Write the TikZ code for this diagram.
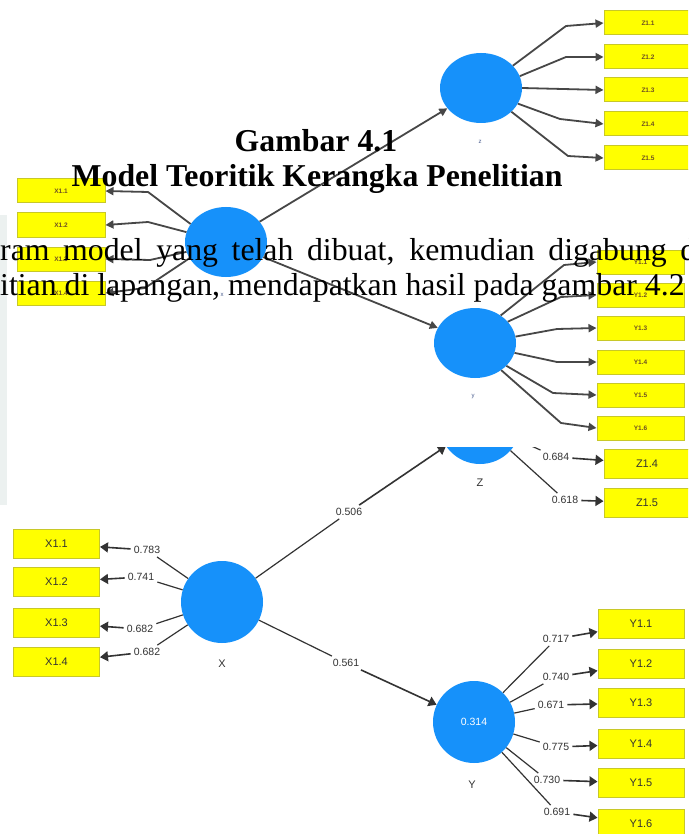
\documentclass[tikz,border=0pt]{standalone}
\usepackage{fontspec}
\setmainfont{Liberation Serif}
\setsansfont{Liberation Sans}
\usetikzlibrary{arrows.meta,shapes.geometric}
\definecolor{plsblue}{RGB}{22,145,250}
\definecolor{plsyellow}{RGB}{255,255,0}
\definecolor{plsedge}{RGB}{200,200,40}
\definecolor{edgegray}{RGB}{51,51,51}
\definecolor{stripgray}{RGB}{236,241,240}
\definecolor{tinytext}{RGB}{110,80,35}
\definecolor{capblue}{RGB}{70,90,140}
\begin{document}
\begin{tikzpicture}[x=1pt,y=-1pt,
  % upper (small) path model
  tlat/.style={ellipse,fill=plsblue,minimum width=82pt,minimum height=70pt,inner sep=0pt},
  tbox/.style={rectangle,fill=plsyellow,draw=plsedge,line width=1pt,minimum width=88pt,minimum height=24pt,inner sep=0pt,
    text=tinytext,font=\sffamily\bfseries\fontsize{6.5}{7}\selectfont},
  tcap/.style={text=capblue,font=\sffamily\fontsize{6}{7}\selectfont,inner sep=0pt},
  tconn/.style={draw=edgegray!90,line width=1.8pt,line join=round},
  tarrow/.style={-{Triangle[length=8pt,width=8pt]}},
  % lower path model
  lat/.style={circle,fill=plsblue,minimum size=82pt,inner sep=0pt},
  mbox/.style={rectangle,fill=plsyellow,draw=plsedge,line width=1pt,minimum width=86pt,minimum height=29pt,inner sep=0pt,
    text=edgegray,font=\sffamily\fontsize{11}{12}\selectfont},
  coef/.style={text=edgegray,font=\sffamily\fontsize{10.5}{12}\selectfont,inner sep=3pt},
  lcap/.style={text=edgegray,font=\sffamily\fontsize{11}{12}\selectfont,inner sep=0pt},
  conn/.style={draw=edgegray,line width=1.2pt},
  arrowed/.style={-{Triangle[length=8pt,width=10pt]},line width=1.6pt},
  % page text
  titlefont/.style={font=\fontsize{31.8}{38}\selectfont\bfseries,inner sep=0pt},
  bodyfont/.style={font=\fontsize{31.8}{38}\selectfont,inner sep=0pt}
]
\useasboundingbox (0,0) rectangle (688,834);
\clip (0,0) rectangle (688,834);
\fill[white] (0,0) rectangle (688,834);
\fill[stripgray] (0,215) rectangle (7,505);

% ---------- upper model ----------
\node[tlat] (tx) at (226,242) {};
\node[tlat] (tz) at (481,88) {};
\node[tlat] (ty) at (475,343) {};
\node[tcap] (txc) at (222,295) {x};
\node[tcap] (tzc) at (480,142) {z};
\node[tcap] (tyc) at (473,397) {y};

\node[tbox] (tx1) at (61,191) {X1.1};
\node[tbox] (tx2) at (61,225) {X1.2};
\node[tbox] (tx3) at (61,259) {X1.3};
\node[tbox] (tx4) at (61,293) {X1.4};

\node[tbox] (tz1) at (648,23) {Z1.1};
\node[tbox] (tz2) at (648,57) {Z1.2};
\node[tbox] (tz3) at (648,90) {Z1.3};
\node[tbox] (tz4) at (648,124) {Z1.4};
\node[tbox] (tz5) at (648,158) {Z1.5};

\node[tbox,minimum width=87pt] (ty1) at (640.5,262) {Y1.1};
\node[tbox,minimum width=87pt] (ty2) at (640.5,295) {Y1.2};
\node[tbox,minimum width=87pt] (ty3) at (640.5,328) {Y1.3};
\node[tbox,minimum width=87pt] (ty4) at (640.5,362) {Y1.4};
\node[tbox,minimum width=87pt] (ty5) at (640.5,395) {Y1.5};
\node[tbox,minimum width=87pt] (ty6) at (640.5,428) {Y1.6};

% bend points of the indicator links
\coordinate (bx1) at (148,192);
\coordinate (bx2) at (148,222);
\coordinate (bx3) at (150,260);
\coordinate (bx4) at (145,288);
\coordinate (bz1) at (566,26);
\coordinate (bz2) at (566,57);
\coordinate (bz4) at (560,119);
\coordinate (bz5) at (568,156);
\coordinate (by1) at (564,265);
\coordinate (by2) at (561,297);
\coordinate (by3) at (557,329);
\coordinate (by4) at (557,362);
\coordinate (by5) at (553,393);
\coordinate (by6) at (561,423);

\draw[tconn,tarrow] (tx.153) -- (bx1) -- (tx1.east);
\draw[tconn,tarrow] (tx.166) -- (bx2) -- (tx2.east);
\draw[tconn,tarrow] (tx.194) -- (bx3) -- (tx3.east);
\draw[tconn,tarrow] (tx.204) -- (bx4) -- (tx4.east);

\draw[tconn,tarrow] (tz.35) -- (bz1) -- (tz1.west);
\draw[tconn,tarrow] (tz.17) -- (bz2) -- (tz2.west);
\draw[tconn,tarrow] (tz.0) -- (tz3.west);
\draw[tconn,tarrow] (tz.-23) -- (bz4) -- (tz4.west);
\draw[tconn,tarrow] (tz.-38) -- (bz5) -- (tz5.west);

\draw[tconn,tarrow] (ty.47) -- (by1) -- (ty1.west);
\draw[tconn,tarrow] (ty.33) -- (by2) -- (ty2.west);
\draw[tconn,tarrow] (ty.9) -- (by3) -- (ty3.west);
\draw[tconn,tarrow] (ty.-14) -- (by4) -- (ty4.west);
\draw[tconn,tarrow] (ty.-36) -- (by5) -- (ty5.west);
\draw[tconn,tarrow] (ty.-46) -- (by6) -- (ty6.west);

\draw[tconn,tarrow] (tx) -- (tz);
\draw[tconn,tarrow] (tx) -- (ty);

% ---------- lower model ----------
\begin{scope}
\clip (0,447) rectangle (688,834);
\node[lat] (X) at (222,602) {};
\node[lat] (Z) at (480,423) {};
\node[lat,text=white,font=\sffamily\fontsize{10.5}{12}\selectfont] (Y) at (474,722) {0.314};
\node[lcap] (Xc) at (222,664) {X};
\node[lcap] (Zc) at (480,483) {Z};
\node[lcap] (Yc) at (472,785) {Y};

\node[mbox] (x11) at (56.5,544) {X1.1};
\node[mbox] (x12) at (56.5,582) {X1.2};
\node[mbox] (x13) at (56.5,623) {X1.3};
\node[mbox] (x14) at (56.5,662) {X1.4};

\node[mbox] (z14) at (647,463.5) {Z1.4};
\node[mbox] (z15) at (647,502.5) {Z1.5};

\node[mbox] (y11) at (641,624) {Y1.1};
\node[mbox] (y12) at (641,664) {Y1.2};
\node[mbox] (y13) at (641,703) {Y1.3};
\node[mbox] (y14) at (641,744) {Y1.4};
\node[mbox] (y15) at (641,783) {Y1.5};
\node[mbox] (y16) at (641,824) {Y1.6};

\node[coef] (c783) at (147,550) {0.783};
\node[coef] (c741) at (141,577) {0.741};
\node[coef] (c682a) at (140,629) {0.682};
\node[coef] (c682b) at (147,652) {0.682};
\node[coef] (c506) at (349,512) {0.506};
\node[coef] (c561) at (346,663) {0.561};
\node[coef] (c684) at (556,457) {0.684};
\node[coef] (c618) at (565,500) {0.618};
\node[coef] (c717) at (556,639) {0.717};
\node[coef] (c740) at (556,677) {0.740};
\node[coef] (c671) at (551,705) {0.671};
\node[coef] (c775) at (556,747) {0.775};
\node[coef] (c730) at (547,780) {0.730};
\node[coef] (c691) at (557,812) {0.691};

\draw[conn] (X) -- (c506);
\draw[conn,arrowed] (c506) -- (Z);
\draw[conn] (X) -- (c561);
\draw[conn,arrowed] (c561) -- (Y);

\foreach \c/\b in {c783/x11,c741/x12,c682a/x13,c682b/x14}{
  \draw[conn] (X) -- (\c);
  \draw[conn,arrowed] (\c) -- (\b);
}
\foreach \c/\b in {c684/z14,c618/z15}{
  \draw[conn] (Z) -- (\c);
  \draw[conn,arrowed] (\c) -- (\b);
}
\foreach \c/\b in {c717/y11,c740/y12,c671/y13,c775/y14,c730/y15,c691/y16}{
  \draw[conn] (Y) -- (\c);
  \draw[conn,arrowed] (\c) -- (\b);
}
\end{scope}

% ---------- page text ----------
\node[titlefont,anchor=base] (cap1) at (316,152) {Gambar 4.1};
\node[titlefont,anchor=base] (cap2) at (317,187) {Model Teoritik Kerangka Penelitian};
\node[bodyfont,anchor=base west] (body1) at (0,260) {\makebox[696pt][s]{ram model yang telah dibuat, kemudian digabung d}};
\node[bodyfont,anchor=base west] (body2) at (0,295) {itian di lapangan, mendapatkan hasil pada gambar 4.2};
\end{tikzpicture}
\end{document}
